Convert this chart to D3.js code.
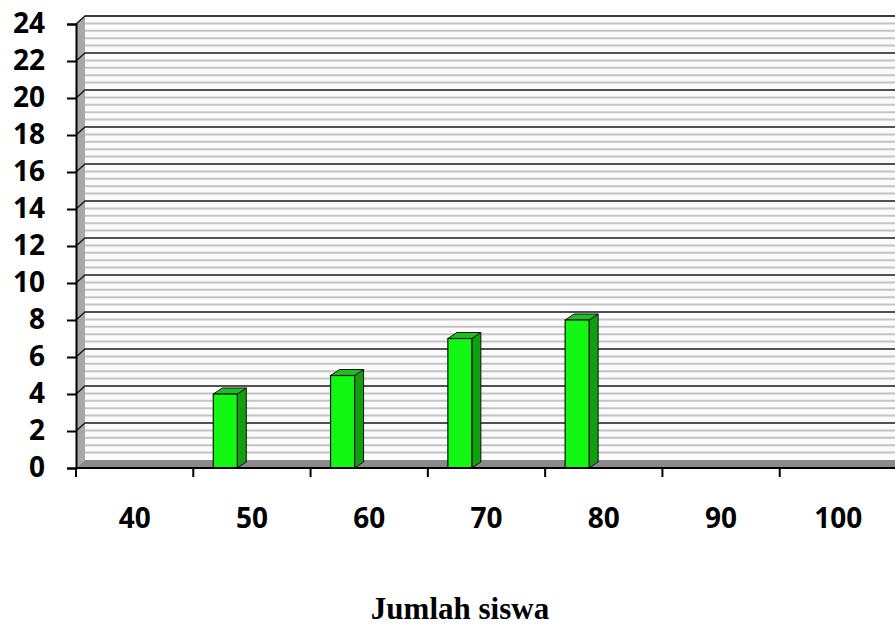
<!DOCTYPE html>
<html>
<head>
<meta charset="utf-8">
<script src="https://cdn.jsdelivr.net/npm/d3@7"></script>
<style>
  body { margin: 0; background: #fff; overflow: hidden; }
  svg { display: block; }
</style>
</head>
<body>
<div id="chart"></div>
<script>
// data
const categories = ["40", "50", "60", "70", "80", "90", "100"];
const counts = [0, 4, 5, 7, 8, 0, 0];
const yTicks = [0, 2, 4, 6, 8, 10, 12, 14, 16, 18, 20, 22, 24];
const xTitle = "Jumlah siswa";

const width = 895, height = 628;
const plotLeft = 76, plotRight = 897, plotBottom = 468, plotTop = 24;
const wallDx = 9, wallDy = 8;   // depth of the back wall
const barDx = 9, barDy = 6;     // depth of each bar
const labelFont = "bold 28px 'Open Sans', 'DejaVu Sans', sans-serif";

const svg = d3.select("#chart").append("svg")
    .attr("width", width)
    .attr("height", height)
    .attr("viewBox", [0, 0, width, height]);

const x = d3.scaleBand().domain(categories).range([plotLeft, plotRight]);
const y = d3.scaleLinear().domain([0, 24]).range([plotBottom, plotTop]);

// back wall
svg.append("rect")
    .attr("x", plotLeft + wallDx).attr("y", y(24) - wallDy)
    .attr("width", plotRight - plotLeft).attr("height", y(0) - y(24))
    .attr("fill", "#fbfbfb");

// fine stripes on the wall
const stripes = d3.range(0.4, 24, 0.4).filter(v => Math.abs(v / 2 - Math.round(v / 2)) > 0.01);
svg.append("g")
    .selectAll("line")
    .data(stripes)
    .join("line")
    .attr("x1", plotLeft + wallDx).attr("x2", plotRight + wallDx)
    .attr("y1", d => y(d) - wallDy).attr("y2", d => y(d) - wallDy)
    .attr("stroke", "#c4c4c4")
    .attr("stroke-width", 2);

// left wall
svg.append("path")
    .attr("d", `M${plotLeft},${y(0)}L${plotLeft},${y(24)}L${plotLeft + wallDx},${y(24) - wallDy}L${plotLeft + wallDx},${y(0) - wallDy}Z`)
    .attr("fill", "#a8a8a8");

// floor
svg.append("path")
    .attr("d", `M${plotLeft},${y(0)}L${plotLeft + wallDx},${y(0) - wallDy}L${plotRight + wallDx},${y(0) - wallDy}L${plotRight},${y(0)}Z`)
    .attr("fill", "#8a8a8a");

// top edge of wall
svg.append("line")
    .attr("x1", plotLeft + wallDx).attr("x2", plotRight + wallDx)
    .attr("y1", y(24) - wallDy).attr("y2", y(24) - wallDy)
    .attr("stroke", "#8c8c8c").attr("stroke-width", 1.5);

// major gridlines (bent across left wall)
svg.append("g")
    .selectAll("path")
    .data(yTicks.filter(d => d > 0))
    .join("path")
    .attr("d", d => `M${plotLeft},${y(d)}L${plotLeft + wallDx},${y(d) - wallDy}L${plotRight + wallDx},${y(d) - wallDy}`)
    .attr("fill", "none")
    .attr("stroke", "#1a1a1a")
    .attr("stroke-width", 1.5);

// bars
const barOff = 20, barW = 24;
const bars = svg.append("g")
    .selectAll("g")
    .data(categories.map((c, i) => ({cat: c, v: counts[i]})).filter(d => d.v > 0))
    .join("g");

bars.append("path")
    .attr("d", d => {
        const x1 = x(d.cat) + barOff + barW;
        return `M${x1},${y(d.v)}L${x1 + barDx},${y(d.v) - barDy}L${x1 + barDx},${y(0) - barDy}L${x1},${y(0)}Z`;
    })
    .attr("fill", "#0f9f0f")
    .attr("stroke", "#111")
    .attr("stroke-width", 1);

bars.append("path")
    .attr("d", d => {
        const x0 = x(d.cat) + barOff, x1 = x0 + barW;
        return `M${x0},${y(d.v)}L${x0 + barDx},${y(d.v) - barDy}L${x1 + barDx},${y(d.v) - barDy}L${x1},${y(d.v)}Z`;
    })
    .attr("fill", "#1fbf1f")
    .attr("stroke", "#111")
    .attr("stroke-width", 1);

bars.append("rect")
    .attr("x", d => x(d.cat) + barOff)
    .attr("y", d => y(d.v))
    .attr("width", barW)
    .attr("height", d => y(0) - y(d.v))
    .attr("fill", "#13f813")
    .attr("stroke", "#111")
    .attr("stroke-width", 1.2);

// y axis
const yAxis = svg.append("g")
    .attr("transform", `translate(${plotLeft},0)`)
    .call(d3.axisLeft(y).tickValues(yTicks).tickSize(9).tickPadding(22));
yAxis.select(".domain").attr("stroke", "#000").attr("stroke-width", 2);
yAxis.selectAll(".tick line").attr("stroke", "#000").attr("stroke-width", 2);
yAxis.selectAll("text")
    .attr("fill", "#000")
    .style("font", labelFont);

// x axis
const xAxis = svg.append("g")
    .attr("transform", `translate(0,${plotBottom})`)
    .call(d3.axisBottom(x).tickSize(0).tickPadding(40));
xAxis.select(".domain").remove();
xAxis.selectAll("text")
    .attr("fill", "#000")
    .style("font", labelFont);

svg.append("line")
    .attr("x1", plotLeft).attr("x2", plotRight)
    .attr("y1", plotBottom).attr("y2", plotBottom)
    .attr("stroke", "#000").attr("stroke-width", 2);

svg.append("g")
    .selectAll("line")
    .data(categories)
    .join("line")
    .attr("x1", d => x(d)).attr("x2", d => x(d))
    .attr("y1", plotBottom).attr("y2", plotBottom + 9)
    .attr("stroke", "#000").attr("stroke-width", 2);

// axis title
svg.append("text")
    .attr("x", 460).attr("y", 619)
    .attr("text-anchor", "middle")
    .style("font", "bold 31px 'Liberation Serif', 'Times New Roman', serif")
    .text(xTitle);
</script>
</body>
</html>
